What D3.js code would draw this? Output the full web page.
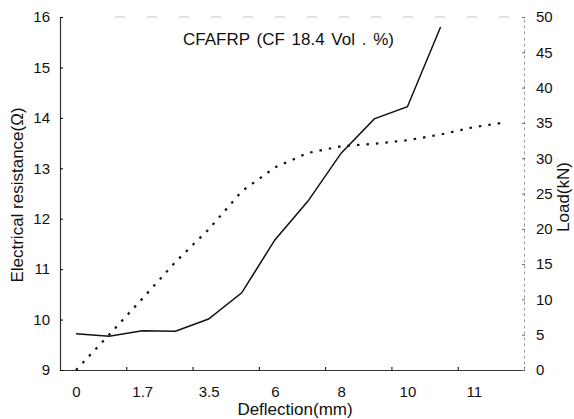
<!DOCTYPE html>
<html>
<head>
<meta charset="utf-8">
<script src="https://cdn.jsdelivr.net/npm/d3@7"></script>
<style>
  body { margin: 0; background: #fff; }
  svg { display: block; font-family: "Liberation Sans", Arial, sans-serif; }
</style>
</head>
<body>
<div id="chart"></div>
<script>
// x-Achse: Beschriftungen (gleichmaessig verteilt)
const deflectionLabels = ["0", "1.7", "3.5", "6", "8", "10", "11"];

// Widerstand (linke Achse), Positionen als Index der Beschriftungen
const resistanceIdx = [0, 0.5, 1, 1.5, 2, 2.5, 3, 3.5, 4, 4.5, 5, 5.5];
const resistance = [9.72, 9.67, 9.78, 9.77, 10.01, 10.53, 11.58, 12.35, 13.3, 13.98, 14.22, 15.8];

// Last (rechte Achse)
const loadIdx = [0, 0.5, 1, 1.5, 2, 2.5, 3, 3.5, 4, 4.5, 5, 5.5, 6, 6.5];
const load = [0, 5.0, 10.1, 15.3, 19.9, 25.3, 28.7, 30.75, 31.7, 32.05, 32.55, 33.35, 34.4, 35.1];

// Achsenticks
const leftTicks = [9, 10, 11, 12, 13, 14, 15, 16];
const rightTicks = [0, 5, 10, 15, 20, 25, 30, 35, 40, 45, 50];

const W = 574, H = 419;
const margin = {left: 60, right: 524, top: 17, bottom: 370};

const svg = d3.select("#chart")
    .append("svg")
    .attr("width", W)
    .attr("height", H);

// Skalen
const step = (margin.right - margin.left) / 7;
const offset = 16 / step;
const x = d3.scaleLinear()
    .domain([-offset, 7 - offset])
    .range([margin.left, margin.right]);

const yL = d3.scaleLinear().domain([9, 16]).range([margin.bottom, margin.top]);
const yR = d3.scaleLinear().domain([0, 50]).range([margin.bottom, margin.top]);

// obere Linie (schwach, gestrichelt)
svg.append("line")
    .attr("x1", 115).attr("x2", margin.right)
    .attr("y1", margin.top).attr("y2", margin.top)
    .attr("stroke", "#c8c8c8")
    .attr("stroke-dasharray", "10,22");

// x-Achse: Ticks
const xTicks = d3.range(8).map(k => k - offset);
svg.append("g")
    .attr("transform", `translate(0,${margin.bottom})`)
    .call(d3.axisBottom(x).tickValues(xTicks).tickFormat("").tickSizeInner(-3).tickSizeOuter(0))
    .call(g => g.select(".domain").attr("stroke", "#333").attr("stroke-width", 1.2));

// x-Achse: Beschriftungen
svg.append("g")
    .attr("transform", `translate(0,${margin.bottom})`)
    .call(d3.axisBottom(x).tickValues(d3.range(deflectionLabels.length))
        .tickFormat(i => deflectionLabels[i]).tickSize(0).tickPadding(16))
    .call(g => g.select(".domain").remove())
    .selectAll("text")
    .attr("font-size", "15px")
    .attr("font-family", "Liberation Sans, Arial, sans-serif")
    .attr("fill", "#111");

// linke Achse
svg.append("g")
    .attr("transform", `translate(${margin.left},0)`)
    .call(d3.axisLeft(yL).tickValues(leftTicks).tickFormat(d3.format("d"))
        .tickSizeInner(-3).tickSizeOuter(0).tickPadding(10))
    .call(g => g.select(".domain").attr("stroke", "#333").attr("stroke-width", 1.2))
    .selectAll("text")
    .attr("font-size", "15px")
    .attr("font-family", "Liberation Sans, Arial, sans-serif")
    .attr("fill", "#111");

// rechte Achse
svg.append("g")
    .attr("transform", `translate(${margin.right},0)`)
    .call(d3.axisRight(yR).tickValues(rightTicks).tickFormat(d3.format("d"))
        .tickSizeInner(3).tickSizeOuter(0).tickPadding(9))
    .call(g => g.select(".domain").attr("stroke", "#999").attr("stroke-dasharray", "3,3"))
    .call(g => g.selectAll(".tick line").attr("stroke", "#666").attr("transform", "translate(-2,0)"))
    .selectAll("text")
    .attr("font-size", "15px")
    .attr("font-family", "Liberation Sans, Arial, sans-serif")
    .attr("fill", "#111");

// Widerstand (durchgezogen)
const resData = resistanceIdx.map((d, i) => ({i: d, v: resistance[i]}));
svg.append("path")
    .datum(resData)
    .attr("fill", "none")
    .attr("stroke", "#111")
    .attr("stroke-width", 1.5)
    .attr("d", d3.line().x(d => x(d.i)).y(d => yL(d.v)));

// Last (gepunktet)
const loadData = loadIdx.map((d, i) => ({i: d, v: load[i]}));
svg.append("path")
    .datum(loadData)
    .attr("fill", "none")
    .attr("stroke", "#111")
    .attr("stroke-width", 2.2)
    .attr("stroke-dasharray", "2.5,7")
    .attr("d", d3.line().x(d => x(d.i)).y(d => yR(d.v)));

// Titel im Diagramm
svg.append("text")
    .attr("x", 183)
    .attr("y", 45)
    .attr("font-size", "17px")
    .attr("word-spacing", "2px")
    .attr("fill", "#111")
    .text("CFAFRP (CF 18.4 Vol . %)");

// Achsentitel
svg.append("text")
    .attr("x", 295)
    .attr("y", 415)
    .attr("text-anchor", "middle")
    .attr("font-size", "17px")
    .attr("fill", "#111")
    .text("Deflection(mm)");

svg.append("text")
    .attr("transform", "translate(23,195) rotate(-90)")
    .attr("text-anchor", "middle")
    .attr("font-size", "17px")
    .attr("fill", "#111")
    .text("Electrical resistance(Ω)");

svg.append("text")
    .attr("transform", "translate(569,197) rotate(-90)")
    .attr("text-anchor", "middle")
    .attr("font-size", "17px")
    .attr("fill", "#111")
    .text("Load(kN)");
</script>
</body>
</html>
